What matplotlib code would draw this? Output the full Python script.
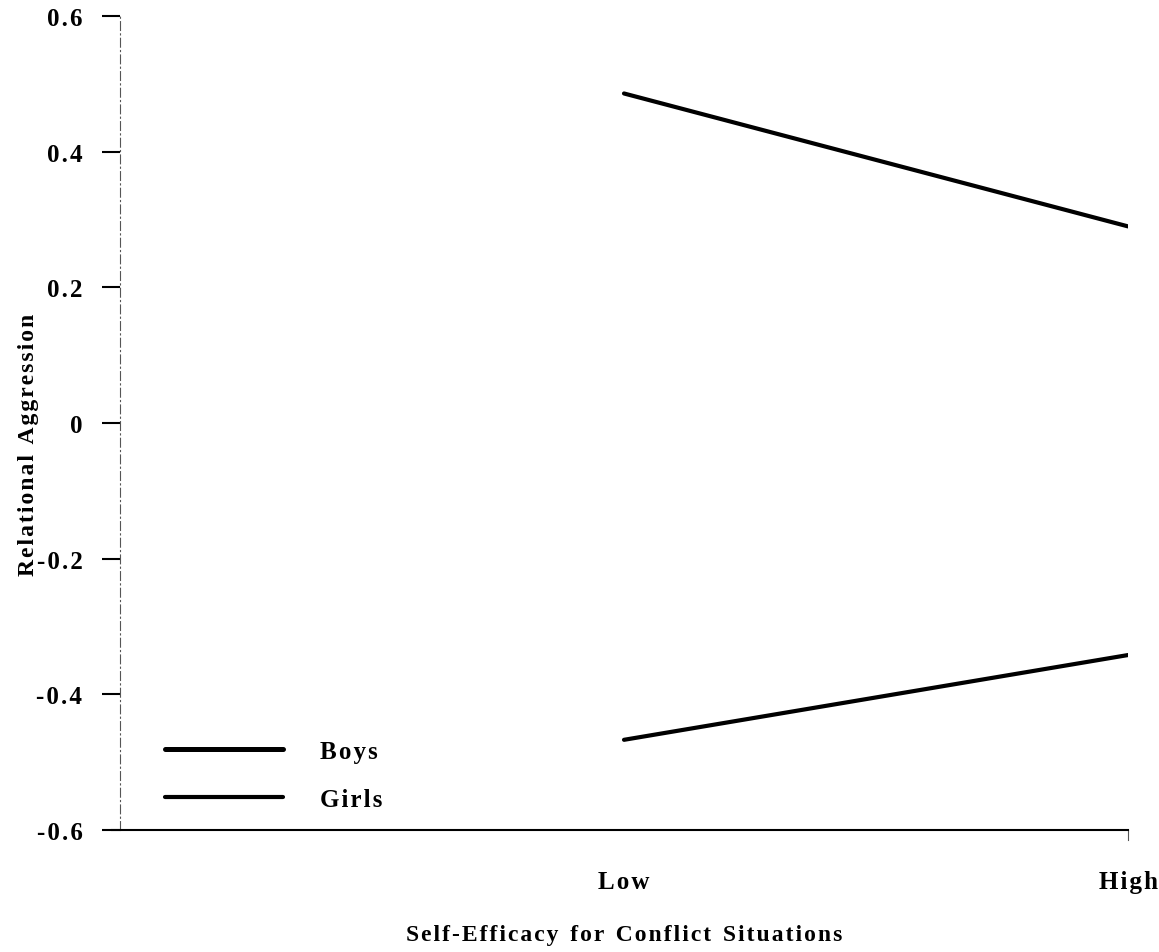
import matplotlib
matplotlib.use("Agg")
import matplotlib.pyplot as plt
from matplotlib.lines import Line2D

plt.rcParams['font.family'] = ['Liberation Serif', 'DejaVu Serif']
plt.rcParams['font.weight'] = 'bold'

x_levels = ["Low", "High"]
x_pos = [1, 2]
boys = [0.486, 0.290]
girls = [-0.467, -0.342]
y_ticks = [-0.6, -0.4, -0.2, 0, 0.2, 0.4, 0.6]
y_tick_labels = ["-0.6", "-0.4", "-0.2", "0", "0.2", "0.4", "0.6"]
series_names = ["Boys", "Girls"]
x_title = "Self-Efficacy for Conflict Situations"
y_title = "Relational Aggression"

HS = "\u200a"


def spaced(s, word_gap=" "):
    words = s.split(" ")
    return (word_gap).join(HS.join(list(w)) for w in words)


fig = plt.figure(figsize=(11.59, 9.53), dpi=100)
ax = fig.add_axes([0.1035, 0.128, 0.8698, 0.854])

ax.plot(x_pos, boys, color='black', lw=3.0, solid_capstyle='round')
ax.plot(x_pos, girls, color='black', lw=3.0, solid_capstyle='round')

ax.set_xlim(0, 2)
ax.set_ylim(-0.6, 0.6)

for s in ['top', 'right']:
    ax.spines[s].set_visible(False)
ax.spines['left'].set_linestyle((0, (8, 3, 1, 3)))
ax.spines['left'].set_linewidth(0.8)
ax.spines['left'].set_color('#555555')
ax.spines['bottom'].set_linewidth(1.5)
ax.spines['bottom'].set_bounds(-0.015, 2)

ax.set_yticks(y_ticks)
ax.set_yticklabels([spaced(t) for t in y_tick_labels], fontsize=18, fontweight='bold')
ax.tick_params(axis='y', direction='out', length=13, width=1.5, pad=14)

ax.set_xticks(x_pos)
ax.set_xticklabels([spaced(t) for t in x_levels], fontsize=18, fontweight='bold')
ax.tick_params(axis='x', length=0, pad=29)
# small tick at right end of x axis
ax.plot([2, 2], [-0.6, -0.615], color='#555555', lw=0.8, clip_on=False)

ax.set_xlabel(spaced(x_title, word_gap="  "), fontsize=17, fontweight='bold', labelpad=22)
ax.set_ylabel(spaced(y_title, word_gap="  "), fontsize=17, fontweight='bold')
ax.yaxis.set_label_coords(-0.08, 0.475)

handles = [Line2D([0], [0], color='black', lw=3.6, solid_capstyle='round'),
           Line2D([0], [0], color='black', lw=3.0, solid_capstyle='round')]
leg = ax.legend(handles, [spaced(n) for n in series_names], loc='upper left',
                bbox_to_anchor=(0.0446, 0.111), borderpad=0, borderaxespad=0,
                frameon=False, handlelength=4.72, handletextpad=1.48, labelspacing=1.0,
                prop={'family': ['Liberation Serif', 'DejaVu Serif'], 'weight': 'bold', 'size': 18})

fig.savefig("out.png", dpi=100)
